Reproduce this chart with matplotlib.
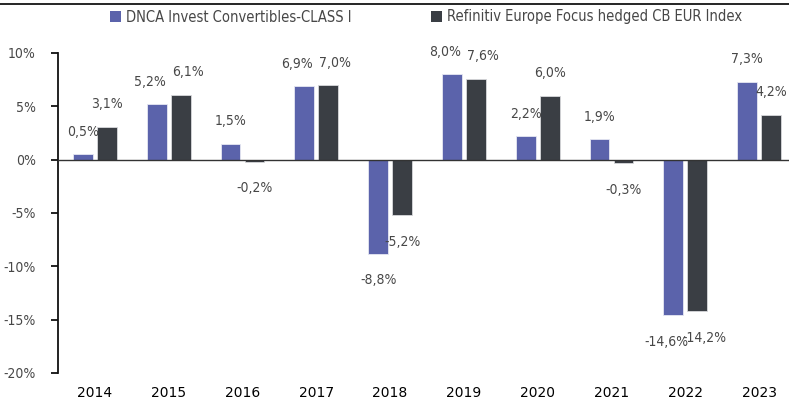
import matplotlib
matplotlib.use("Agg")
import matplotlib.pyplot as plt
from matplotlib import font_manager as fm
from matplotlib.patches import Patch
from matplotlib.lines import Line2D
import numpy as np

# data
years = ["2014", "2015", "2016", "2017", "2018", "2019", "2020", "2021", "2022", "2023"]
dnca = [0.5, 5.2, 1.5, 6.9, -8.8, 8.0, 2.2, 1.9, -14.6, 7.3]
refinitiv = [3.1, 6.1, -0.2, 7.0, -5.2, 7.6, 6.0, -0.3, -14.2, 4.2]
series_names = ["DNCA Invest Convertibles-CLASS I", "Refinitiv Europe Focus hedged CB EUR Index"]
yticks = [-20, -15, -10, -5, 0, 5, 10]

PURPLE = "#5B63AB"
DARK = "#3A3E44"
TEXT = "#474747"

# the reference uses a condensed face; take whatever condensed font is on the box
font_path = None
for f in fm.fontManager.ttflist:
    name = (f.name + " " + f.fname).lower()
    if ("narrow" in name or "condensed" in name) and "bold" not in name \
            and "oblique" not in name and "italic" not in name:
        font_path = f.fname
        break

def fp(size):
    if font_path:
        return fm.FontProperties(fname=font_path, size=size)
    return fm.FontProperties(family="DejaVu Sans", size=size * 0.85)

FS = 10

W, H = 789, 408
fig = plt.figure(figsize=(W / 100, H / 100), dpi=100)
# axes in pixel terms: left 58, right 796 (runs a bit past the figure), top 53, bottom 373
ax = fig.add_axes([58 / W, (H - 373) / H, 738 / W, 320 / H])

x = np.arange(len(years))
bw = 0.27
off = 0.163
ax.bar(x - off, dnca, bw, color=PURPLE, edgecolor="#e6e7f2", linewidth=0.6, zorder=2)
ax.bar(x + off, refinitiv, bw, color=DARK, edgecolor="#d8d9dc", linewidth=0.6, zorder=2)

def fmt(v):
    return f"{v:.1f}%".replace(".", ",")

def label_y(v):
    return v + 2.1 if v >= 0 else v - 2.5

for i in range(len(years)):
    y1, y2 = label_y(dnca[i]), label_y(refinitiv[i])
    # spread the two labels sideways a little when they sit at the same height
    dx = 5 if abs(y1 - y2) < 1.5 else 0
    for xi, v, sx in ((x[i] - off, dnca[i], -dx), (x[i] + off, refinitiv[i], dx)):
        ax.annotate(fmt(v), (xi, label_y(v)), xytext=(sx, 0), textcoords="offset points",
                    ha="center", va="center", fontproperties=fp(FS), color=TEXT,
                    annotation_clip=False)

ax.set_xlim(-0.5, len(years) - 0.5)
ax.set_ylim(-20, 10)
ax.set_yticks(yticks)
ax.set_yticklabels([f"{t}%" for t in yticks], fontproperties=fp(FS), color=TEXT)
ax.set_xticks(x)
ax.set_xticklabels(years, fontproperties=fp(FS), color=TEXT)

ax.spines['top'].set_visible(False)
ax.spines['right'].set_visible(False)
ax.spines['left'].set_color("#111111")
ax.spines['left'].set_linewidth(1.3)
ax.spines['bottom'].set_position(('data', 0))
ax.spines['bottom'].set_color("#333333")
ax.spines['bottom'].set_linewidth(1.0)
ax.spines['bottom'].set_zorder(3)

ax.tick_params(axis='y', length=5, width=1.3, color="#111111", pad=11)
# labels hang from the zero line, so push them down to the foot of the chart
ax.tick_params(axis='x', length=0, pad=163)

handles = [Patch(facecolor=PURPLE, edgecolor="none"), Patch(facecolor=DARK, edgecolor="none")]
fig.legend(handles, series_names, loc="center left", bbox_to_anchor=(103 / W, (H - 17) / H),
           ncol=2, frameon=False, prop=fp(FS + 0.5), handlelength=0.75, handleheight=0.75,
           handletextpad=0.3, columnspacing=5.5, borderpad=0, labelcolor=TEXT)

# thin rule at the very top of the image
fig.add_artist(Line2D([0, 1], [(H - 4) / H, (H - 4) / H], color="black", linewidth=1.2,
                      transform=fig.transFigure))

fig.savefig("out.png", dpi=100, facecolor="white")
